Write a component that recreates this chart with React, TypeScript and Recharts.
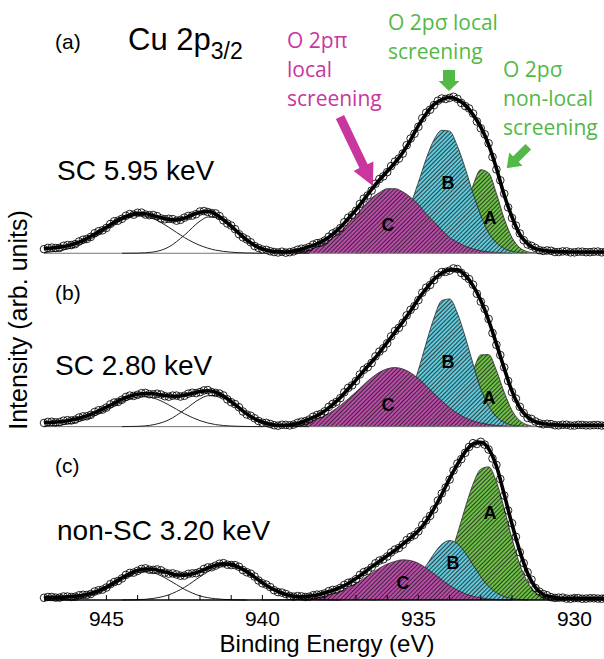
import React from 'react'
import { ComposedChart, Line, Area, Scatter, XAxis, YAxis, ReferenceLine } from 'recharts'

// binding energy grid (eV) of the measured points and fit envelopes
const energy = [
  947, 946.75, 946.5, 946.25, 946, 945.75, 945.5, 945.25, 945, 944.75, 944.5, 944.25, 944, 943.75, 943.5, 943.25,
  943, 942.75, 942.5, 942.25, 942, 941.75, 941.5, 941.25, 941, 940.75, 940.5, 940.25, 940, 939.75, 939.5, 939.25,
  939, 938.75, 938.5, 938.25, 938, 937.75, 937.5, 937.25, 937, 936.75, 936.5, 936.25, 936, 935.75, 935.5, 935.25,
  935, 934.75, 934.5, 934.25, 934, 933.75, 933.5, 933.25, 933, 932.75, 932.5, 932.25, 932, 931.75, 931.5, 931.25,
  931, 930.75, 930.5, 930.25, 930, 929.75, 929.5, 929.25, 929,
]
// the measured points in between
const energyMid = [
  946.875, 946.625, 946.375, 946.125, 945.875, 945.625, 945.375, 945.125, 944.875, 944.625, 944.375, 944.125,
  943.875, 943.625, 943.375, 943.125, 942.875, 942.625, 942.375, 942.125, 941.875, 941.625, 941.375, 941.125,
  940.875, 940.625, 940.375, 940.125, 939.875, 939.625, 939.375, 939.125, 938.875, 938.625, 938.375, 938.125,
  937.875, 937.625, 937.375, 937.125, 936.875, 936.625, 936.375, 936.125, 935.875, 935.625, 935.375, 935.125,
  934.875, 934.625, 934.375, 934.125, 933.875, 933.625, 933.375, 933.125, 932.875, 932.625, 932.375, 932.125,
  931.875, 931.625, 931.375, 931.125, 930.875, 930.625, 930.375, 930.125, 929.875, 929.625, 929.375, 929.125,
]

// (a) SC 5.95 keV
const fitA = [
  0.03, 0.033, 0.039, 0.048, 0.062, 0.082, 0.108, 0.136, 0.165, 0.198, 0.223, 0.243, 0.253, 0.251, 0.239, 0.225,
  0.215, 0.211, 0.223, 0.243, 0.26, 0.266, 0.249, 0.214, 0.172, 0.126, 0.084, 0.05, 0.027, 0.015, 0.009, 0.008,
  0.014, 0.026, 0.042, 0.06, 0.085, 0.12, 0.165, 0.22, 0.275, 0.34, 0.405, 0.465, 0.52, 0.575, 0.64, 0.72,
  0.81, 0.885, 0.945, 0.975, 0.99, 0.975, 0.94, 0.88, 0.8, 0.69, 0.54, 0.37, 0.23, 0.12, 0.06, 0.03,
  0.018, 0.013, 0.01, 0.009, 0.008, 0.008, 0.008, 0.008, 0.008,
]
const ptsA = [
  0.026, 0.036, 0.034, 0.052, 0.058, 0.086, 0.104, 0.14, 0.161, 0.203, 0.219, 0.249, 0.257, 0.246, 0.243, 0.221,
  0.219, 0.207, 0.226, 0.239, 0.265, 0.262, 0.253, 0.209, 0.176, 0.121, 0.088, 0.046, 0.024, 0.013, 0.005, 0.004,
  0.012, 0.029, 0.039, 0.064, 0.081, 0.126, 0.16, 0.226, 0.27, 0.347, 0.398, 0.471, 0.515, 0.582, 0.633, 0.728,
  0.803, 0.892, 0.94, 0.982, 0.986, 0.98, 0.934, 0.887, 0.793, 0.698, 0.532, 0.378, 0.224, 0.126, 0.056, 0.034,
  0.015, 0.016, 0.008, 0.012, 0.006, 0.01, 0.007, 0.011, 0.009,
]
const midA = [
  0.034, 0.033, 0.047, 0.052, 0.075, 0.091, 0.127, 0.146, 0.186, 0.207, 0.238, 0.245, 0.258, 0.242, 0.236, 0.216,
  0.217, 0.212, 0.237, 0.248, 0.268, 0.255, 0.236, 0.189, 0.153, 0.101, 0.07, 0.034, 0.022, 0.008, 0.01, 0.007,
  0.022, 0.03, 0.055, 0.068, 0.105, 0.138, 0.197, 0.243, 0.313, 0.367, 0.441, 0.488, 0.553, 0.601, 0.686, 0.759,
  0.857, 0.911, 0.968, 0.979, 0.993, 0.954, 0.919, 0.836, 0.755, 0.611, 0.463, 0.291, 0.176, 0.083, 0.047, 0.02,
  0.018, 0.008, 0.012, 0.006, 0.01, 0.007, 0.01, 0.006,
]
const satA1 = [[947, 0.005], [946.5, 0.016], [946, 0.042], [945.5, 0.09], [945, 0.15], [944.5, 0.21], [944, 0.24], [943.5, 0.22], [943, 0.165], [942.5, 0.1], [942, 0.05], [941.5, 0.02], [941, 0.007], [940.5, 0.002], [940, 0]]
const satA2 = [[944.5, 0], [944, 0.001], [943.5, 0.008], [943, 0.04], [942.5, 0.115], [942, 0.204], [941.75, 0.23], [941.5, 0.226], [941, 0.165], [940.5, 0.082], [940, 0.027], [939.5, 0.006], [939, 0.001], [938.5, 0]]
const peakCA = [[939.5, 0.004], [939, 0.008], [938.5, 0.025], [938, 0.064], [937.75, 0.097], [937.5, 0.14], [937.25, 0.187], [937, 0.24], [936.75, 0.3], [936.5, 0.35], [936.25, 0.385], [936, 0.41], [935.75, 0.41], [935.5, 0.39], [935.25, 0.355], [935, 0.31], [934.75, 0.25], [934.5, 0.2], [934.25, 0.147], [934, 0.1], [933.75, 0.07], [933.5, 0.045], [933, 0.016], [932.5, 0.005], [932, 0]]
const peakBA = [[937, 0.001], [936.75, 0.004], [936.5, 0.01], [936.25, 0.025], [936, 0.055], [935.75, 0.107], [935.5, 0.19], [935.25, 0.31], [935, 0.45], [934.75, 0.6], [934.5, 0.72], [934.25, 0.78], [934, 0.775], [933.75, 0.68], [933.5, 0.54], [933.25, 0.38], [933, 0.24], [932.75, 0.13], [932.5, 0.067], [932.25, 0.03], [932, 0.012], [931.75, 0.005], [931.5, 0]]
const peakAA = [[934.5, 0.004], [934.25, 0.016], [934, 0.05], [933.75, 0.14], [933.5, 0.28], [933.25, 0.43], [933, 0.53], [932.75, 0.51], [932.5, 0.38], [932.25, 0.22], [932, 0.1], [931.75, 0.035], [931.5, 0.01], [931.25, 0.002], [931, 0]]

// (b) SC 2.80 keV
const fitB = [
  0.026, 0.028, 0.031, 0.038, 0.047, 0.061, 0.078, 0.1, 0.124, 0.149, 0.174, 0.193, 0.205, 0.21, 0.209, 0.201,
  0.194, 0.193, 0.199, 0.211, 0.223, 0.228, 0.218, 0.194, 0.159, 0.119, 0.081, 0.05, 0.028, 0.015, 0.009, 0.009,
  0.015, 0.028, 0.048, 0.07, 0.1, 0.14, 0.185, 0.24, 0.295, 0.355, 0.41, 0.47, 0.535, 0.6, 0.665, 0.735,
  0.81, 0.875, 0.935, 0.975, 0.995, 0.995, 0.96, 0.895, 0.8, 0.675, 0.525, 0.37, 0.225, 0.12, 0.06, 0.03,
  0.018, 0.013, 0.01, 0.009, 0.009, 0.009, 0.009, 0.009, 0.009,
]
const ptsB = [
  0.023, 0.031, 0.029, 0.041, 0.044, 0.065, 0.075, 0.104, 0.121, 0.153, 0.171, 0.197, 0.202, 0.214, 0.205, 0.204,
  0.19, 0.197, 0.196, 0.215, 0.219, 0.232, 0.214, 0.198, 0.155, 0.123, 0.077, 0.053, 0.025, 0.017, 0.006, 0.011,
  0.013, 0.031, 0.045, 0.074, 0.097, 0.144, 0.181, 0.246, 0.29, 0.361, 0.404, 0.476, 0.529, 0.607, 0.659, 0.741,
  0.803, 0.882, 0.93, 0.981, 0.99, 1.0, 0.955, 0.901, 0.793, 0.683, 0.519, 0.376, 0.219, 0.126, 0.055, 0.033,
  0.015, 0.016, 0.008, 0.012, 0.007, 0.011, 0.008, 0.01, 0.007,
]
const midB = [
  0.03, 0.027, 0.038, 0.039, 0.058, 0.066, 0.093, 0.108, 0.141, 0.157, 0.188, 0.195, 0.212, 0.206, 0.209, 0.193,
  0.197, 0.191, 0.209, 0.213, 0.23, 0.219, 0.21, 0.173, 0.143, 0.096, 0.069, 0.036, 0.024, 0.009, 0.012, 0.008,
  0.024, 0.035, 0.063, 0.081, 0.125, 0.157, 0.218, 0.262, 0.331, 0.377, 0.446, 0.497, 0.573, 0.627, 0.706, 0.765,
  0.85, 0.899, 0.963, 0.982, 1.004, 0.975, 0.936, 0.843, 0.747, 0.594, 0.454, 0.29, 0.178, 0.086, 0.049, 0.021,
  0.018, 0.009, 0.012, 0.007, 0.011, 0.008, 0.01, 0.007,
]
const satB1 = [[947, 0.003], [946.5, 0.009], [946, 0.026], [945.5, 0.058], [945, 0.105], [944.5, 0.155], [944, 0.187], [943.75, 0.19], [943.5, 0.182], [943, 0.138], [942.5, 0.082], [942, 0.038], [941.5, 0.013], [941, 0.004], [940.5, 0.001], [940, 0]]
const satB2 = [[944.5, 0], [944, 0.002], [943.5, 0.012], [943, 0.043], [942.5, 0.106], [942, 0.176], [941.75, 0.196], [941.5, 0.198], [941, 0.151], [940.5, 0.078], [940, 0.027], [939.5, 0.006], [939, 0.001], [938.5, 0]]
const peakCB = [[940, 0.001], [939.5, 0.003], [939, 0.011], [938.5, 0.03], [938, 0.069], [937.5, 0.135], [937, 0.22], [936.5, 0.31], [936.25, 0.345], [936, 0.367], [935.75, 0.375], [935.5, 0.366], [935.25, 0.342], [935, 0.305], [934.5, 0.21], [934, 0.12], [933.5, 0.057], [933, 0.023], [932.5, 0.008], [932, 0.002], [931.5, 0]]
const peakBB = [[936.5, 0.003], [936.25, 0.008], [936, 0.022], [935.75, 0.054], [935.5, 0.115], [935.25, 0.217], [935, 0.36], [934.75, 0.53], [934.5, 0.69], [934.25, 0.8], [934, 0.81], [933.75, 0.72], [933.5, 0.57], [933.25, 0.4], [933, 0.24], [932.75, 0.13], [932.5, 0.063], [932.25, 0.027], [932, 0.01], [931.75, 0.004], [931.5, 0]]
const peakAB = [[934.5, 0.004], [934.25, 0.01], [934, 0.037], [933.75, 0.1], [933.5, 0.21], [933.25, 0.35], [933, 0.455], [932.75, 0.457], [932.5, 0.357], [932.25, 0.218], [932, 0.103], [931.75, 0.038], [931.5, 0.011], [931.25, 0.002], [931, 0]]

// (c) non-SC 3.20 keV
const fitC = [
  0.016, 0.017, 0.018, 0.02, 0.024, 0.03, 0.041, 0.059, 0.082, 0.11, 0.141, 0.168, 0.188, 0.197, 0.195, 0.184,
  0.171, 0.159, 0.158, 0.166, 0.182, 0.203, 0.221, 0.23, 0.226, 0.207, 0.18, 0.145, 0.11, 0.078, 0.054, 0.035,
  0.024, 0.021, 0.024, 0.031, 0.045, 0.06, 0.08, 0.105, 0.136, 0.172, 0.21, 0.245, 0.28, 0.315, 0.355, 0.395,
  0.44, 0.5, 0.58, 0.67, 0.77, 0.86, 0.94, 0.99, 1.0, 0.96, 0.85, 0.67, 0.48, 0.31, 0.17, 0.08,
  0.035, 0.02, 0.013, 0.011, 0.01, 0.01, 0.01, 0.01, 0.01,
]
const ptsC = [
  0.014, 0.019, 0.015, 0.022, 0.021, 0.033, 0.038, 0.062, 0.079, 0.114, 0.137, 0.172, 0.185, 0.201, 0.191, 0.188,
  0.167, 0.162, 0.155, 0.169, 0.179, 0.207, 0.218, 0.234, 0.222, 0.211, 0.176, 0.149, 0.106, 0.082, 0.05, 0.038,
  0.021, 0.023, 0.021, 0.034, 0.042, 0.064, 0.077, 0.109, 0.132, 0.177, 0.206, 0.25, 0.276, 0.32, 0.351, 0.4,
  0.436, 0.505, 0.575, 0.676, 0.764, 0.866, 0.934, 0.995, 1.004, 0.955, 0.857, 0.663, 0.487, 0.303, 0.176, 0.076,
  0.038, 0.018, 0.015, 0.009, 0.012, 0.008, 0.011, 0.009, 0.012,
]
const midC = [
  0.019, 0.015, 0.022, 0.019, 0.03, 0.032, 0.054, 0.066, 0.1, 0.121, 0.159, 0.174, 0.197, 0.192, 0.194, 0.174,
  0.169, 0.154, 0.166, 0.17, 0.197, 0.208, 0.23, 0.224, 0.221, 0.19, 0.167, 0.124, 0.098, 0.062, 0.047, 0.026,
  0.025, 0.019, 0.03, 0.035, 0.056, 0.066, 0.096, 0.116, 0.159, 0.186, 0.233, 0.258, 0.302, 0.33, 0.38, 0.412,
  0.476, 0.534, 0.631, 0.714, 0.822, 0.894, 0.971, 0.99, 0.986, 0.898, 0.768, 0.568, 0.401, 0.234, 0.129, 0.053,
  0.03, 0.013, 0.015, 0.008, 0.012, 0.009, 0.011, 0.008,
]
const satC1 = [[947, 0], [946.5, 0.002], [946, 0.008], [945.5, 0.026], [945, 0.068], [944.5, 0.127], [944, 0.173], [943.75, 0.18], [943.5, 0.173], [943, 0.127], [942.5, 0.068], [942, 0.026], [941.5, 0.008], [941, 0.002], [940.5, 0]]
const satC2 = [[944.5, 0], [944, 0.002], [943.5, 0.01], [943, 0.033], [942.5, 0.08], [942, 0.147], [941.5, 0.205], [941.25, 0.219], [941, 0.217], [940.5, 0.174], [940, 0.105], [939.5, 0.049], [939, 0.017], [938.5, 0.004], [938, 0.001], [937.5, 0]]
const peakCC = [[940, 0], [939.5, 0.001], [939, 0.003], [938.5, 0.009], [938, 0.024], [937.5, 0.056], [937, 0.105], [936.5, 0.17], [936, 0.228], [935.75, 0.245], [935.5, 0.255], [935.25, 0.25], [935, 0.233], [934.5, 0.166], [934, 0.092], [933.5, 0.04], [933, 0.013], [932.5, 0.003], [932, 0]]
const peakBC = [[936.5, 0.001], [936.25, 0.003], [936, 0.008], [935.75, 0.02], [935.5, 0.043], [935.25, 0.083], [935, 0.143], [934.75, 0.218], [934.5, 0.294], [934.25, 0.354], [934, 0.377], [933.75, 0.357], [933.5, 0.3], [933.25, 0.224], [933, 0.148], [932.75, 0.087], [932.5, 0.046], [932.25, 0.021], [932, 0.009], [931.75, 0.003], [931.5, 0]]
const peakAC = [[935.5, 0.002], [935.25, 0.006], [935, 0.017], [934.75, 0.039], [934.5, 0.083], [934.25, 0.158], [934, 0.27], [933.75, 0.42], [933.5, 0.585], [933.25, 0.735], [933, 0.83], [932.75, 0.845], [932.5, 0.75], [932.25, 0.58], [932, 0.39], [931.75, 0.226], [931.5, 0.114], [931.25, 0.05], [931, 0.019], [930.75, 0.006], [930.5, 0.002], [930.25, 0]]

const minorTicks = [946, 945, 944, 943, 942, 941, 940, 939, 938, 937, 936, 935, 934, 933, 932, 931, 930, 929]
const majorTicks = [945, 940, 935, 930]
const yTicks = [0, 1, 2, 3]

const FONT = '"Liberation Sans", Arial, Helvetica, sans-serif'
const NOTE_FONT = '"Open Sans", "Noto Sans", sans-serif'
const MAGENTA = '#C8369E'
const GREEN = '#52B947'

const panels = [
  { id: 'a', off: 2.2, fit: fitA, pts: ptsA, mid: midA, sat1: satA1, sat2: satA2, pC: peakCA, pB: peakBA, pA: peakAA },
  { id: 'b', off: 1.1, fit: fitB, pts: ptsB, mid: midB, sat1: satB1, sat2: satB2, pC: peakCB, pB: peakBB, pA: peakAB },
  { id: 'c', off: 0, fit: fitC, pts: ptsC, mid: midC, sat1: satC1, sat2: satC2, pC: peakCC, pB: peakBC, pA: peakAC },
]

const onGrid = (xs: number[], vals: number[], off: number) => xs.map((e, i) => ({ e, y: vals[i] + off }))
const fromPairs = (pairs: number[][], off: number) => pairs.map(([e, v]) => ({ e, y: v + off }))

const OpenCircle = (props: any) => (
  <circle cx={props.cx} cy={props.cy} r={3.8} fill="none" stroke="#000" strokeWidth={0.85} />
)

const Hatch = ({ id, color }: { id: string; color: string }) => (
  <pattern id={id} patternUnits="userSpaceOnUse" width={3} height={3} patternTransform="rotate(45)">
    <rect width={3} height={3} fill={color} />
    <line x1={1.5} y1={0} x2={1.5} y2={3} stroke="#1e1e1e" strokeWidth={0.8} />
  </pattern>
)

export default function App() {
  const series = panels.flatMap((p) => {
    const items = []
    if (p.off > 0) {
      items.push(<ReferenceLine key={p.id + 'base'} y={p.off} stroke="#777" strokeWidth={1} />)
    }
    items.push(
      <Line key={p.id + 's1'} data={fromPairs(p.sat1, p.off)} dataKey="y" type="monotone" stroke="#222" strokeWidth={1} dot={false} isAnimationActive={false} />,
      <Line key={p.id + 's2'} data={fromPairs(p.sat2, p.off)} dataKey="y" type="monotone" stroke="#222" strokeWidth={1} dot={false} isAnimationActive={false} />,
      <Area key={p.id + 'A'} data={fromPairs(p.pA, p.off)} dataKey="y" baseValue={p.off} type="monotone" fill="url(#hatchA)" fillOpacity={1} stroke="#2a2a2a" strokeWidth={0.8} isAnimationActive={false} />,
      <Area key={p.id + 'B'} data={fromPairs(p.pB, p.off)} dataKey="y" baseValue={p.off} type="monotone" fill="url(#hatchB)" fillOpacity={1} stroke="#2a2a2a" strokeWidth={0.8} isAnimationActive={false} />,
      <Area key={p.id + 'C'} data={fromPairs(p.pC, p.off)} dataKey="y" baseValue={p.off} type="monotone" fill="url(#hatchC)" fillOpacity={1} stroke="#2a2a2a" strokeWidth={0.8} isAnimationActive={false} />,
      <Line key={p.id + 'fit'} data={onGrid(energy, p.fit, p.off)} dataKey="y" type="monotone" stroke="#000" strokeWidth={3.6} dot={false} isAnimationActive={false} />,
      <Scatter key={p.id + 'pts'} data={onGrid(energy, p.pts, p.off)} dataKey="y" shape={OpenCircle} isAnimationActive={false} />,
      <Scatter key={p.id + 'mid'} data={onGrid(energyMid, p.mid, p.off)} dataKey="y" shape={OpenCircle} isAnimationActive={false} />
    )
    return items
  })

  return (
    <div style={{ position: 'absolute', left: 0, top: 0, width: 604, height: 659, overflow: 'hidden', background: '#fff' }}>
      <ComposedChart
        width={616}
        height={659}
        data={onGrid(energy, fitC, 0)}
        margin={{ top: 9, right: 10.4, bottom: 29, left: 44 }}
      >
        <defs>
          <Hatch id="hatchA" color="#6DC046" />
          <Hatch id="hatchB" color="#5FCADC" />
          <Hatch id="hatchC" color="#BA4BA8" />
        </defs>
        <XAxis
          dataKey="e"
          type="number"
          domain={[929, 947]}
          reversed
          ticks={minorTicks}
          interval={0}
          tickSize={-5}
          tickMargin={16}
          height={30}
          stroke="#000"
          axisLine={{ stroke: '#000', strokeWidth: 1.3 }}
          tickLine={{ stroke: '#000', strokeWidth: 1 }}
          tick={{ fontSize: 21, fill: '#000', fontFamily: FONT }}
          tickFormatter={(v: number) => (majorTicks.includes(v) ? String(v) : '')}
        />
        <XAxis
          xAxisId="top"
          orientation="top"
          dataKey="e"
          type="number"
          domain={[929, 947]}
          reversed
          ticks={minorTicks}
          interval={0}
          tickSize={-5}
          height={0}
          stroke="#000"
          axisLine={{ stroke: '#000', strokeWidth: 1.3 }}
          tickLine={{ stroke: '#000', strokeWidth: 1 }}
          tickFormatter={() => ''}
        />
        <YAxis
          dataKey="y"
          type="number"
          domain={[0, 3.75]}
          ticks={yTicks}
          interval={0}
          width={0}
          tickSize={-4}
          stroke="#000"
          axisLine={{ stroke: '#000', strokeWidth: 1.3 }}
          tickLine={{ stroke: '#000', strokeWidth: 1 }}
          tickFormatter={() => ''}
        />
        {series}
      </ComposedChart>

      <svg width={604} height={659} style={{ position: 'absolute', left: 0, top: 0, pointerEvents: 'none' }}>
        <g fontFamily={FONT} fill="#000">
          <text x={55} y={49} fontSize={21}>(a)</text>
          <text x={55} y={300} fontSize={21}>(b)</text>
          <text x={55} y={473} fontSize={21}>(c)</text>
          <text x={128} y={50} fontSize={31}>
            Cu 2p<tspan fontSize={23} dy={9}>3/2</tspan>
          </text>
          <text x={57} y={180} fontSize={28}>SC 5.95 keV</text>
          <text x={55} y={375} fontSize={28}>SC 2.80 keV</text>
          <text x={57} y={540} fontSize={28}>non-SC 3.20 keV</text>
          <g fontSize={18} fontWeight="bold" textAnchor="middle">
            <text x={388} y={231}>C</text>
            <text x={448} y={189}>B</text>
            <text x={490} y={224}>A</text>
            <text x={388} y={411}>C</text>
            <text x={448} y={368}>B</text>
            <text x={489} y={404}>A</text>
            <text x={403} y={589}>C</text>
            <text x={453} y={569}>B</text>
            <text x={490} y={519}>A</text>
          </g>
          <text x={327} y={652} fontSize={24} textAnchor="middle">Binding Energy (eV)</text>
          <text x={27} y={320} fontSize={25} textAnchor="middle" transform="rotate(-90 27 320)">
            Intensity (arb. units)
          </text>
        </g>
        <g fontFamily={NOTE_FONT} fontSize={21}>
          <text x={287} y={48} fill={MAGENTA}>O 2pπ</text>
          <text x={287} y={77} fill={MAGENTA}>local</text>
          <text x={287} y={106} fill={MAGENTA}>screening</text>
          <text x={388} y={30} fill={GREEN}>O 2pσ local</text>
          <text x={388} y={59} fill={GREEN}>screening</text>
          <text x={503} y={77} fill={GREEN}>O 2pσ</text>
          <text x={503} y={106} fill={GREEN}>non-local</text>
          <text x={503} y={135} fill={GREEN}>screening</text>
        </g>
        <polygon
          points="344.1,115.1 367.6,164.3 373.4,161.5 373,186 353.6,170.9 359.4,168.1 335.9,118.9"
          fill={MAGENTA}
        />
        <polygon points="443,70 455,70 455,81 459.5,81 449,91 438.5,81 443,81" fill={GREEN} />
        <polygon
          points="531.1,149.5 518.7,161.9 522.6,165.8 506.7,168.3 509.2,152.4 513.1,156.3 525.5,143.9"
          fill={GREEN}
        />
      </svg>
    </div>
  )
}
